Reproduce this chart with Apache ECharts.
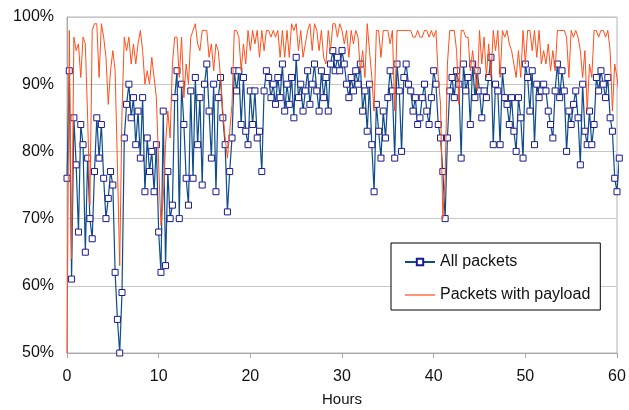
<!DOCTYPE html>
<html>
<head>
<meta charset="utf-8">
<script src="https://cdn.jsdelivr.net/npm/echarts@6/dist/echarts.min.js"></script>
<style>
html,body{margin:0;padding:0;background:#fff;}
#chart{width:629px;height:410px;}
</style>
</head>
<body>
<div id="chart"></div>
<script>
// Time grid: one sample every quarter hour, starting at hour 0
const hourStart = 0;
const hourStep = 0.25;

// "All packets" (% of packets)
const allPackets = [
  76,92,61,85,78,68,84,81,65,79,70,67,77,85,79,84,76,70,73,77,75,62,55,50,59,82,87,90,85,
  88,81,86,79,88,74,82,77,80,74,81,68,62,86,63,77,70,72,88,92,70,90,84,76,72,89,76,91,81,88,
  75,90,93,86,79,90,74,88,91,85,81,71,77,82,92,89,92,84,91,83,81,89,84,89,82,83,77,89,92,
  91,88,90,87,91,88,93,86,90,87,91,85,94,88,90,86,89,92,87,90,93,89,86,92,88,91,86,93,95,92,
  94,92,95,93,90,88,91,89,92,90,93,86,89,83,90,81,74,87,83,79,86,82,88,92,89,79,93,89,80,
  91,93,90,89,86,88,84,85,88,90,86,84,88,92,90,84,82,77,70,82,89,91,88,92,90,79,93,89,91,
  84,93,88,92,89,85,89,88,91,94,81,90,89,81,92,88,87,84,88,83,80,88,85,79,93,91,86,92,81,90,88,89,
  90,89,86,84,82,89,93,88,92,89,80,86,84,87,89,85,78,90,83,81,86,81,84,91,89,92,90,88,91,85,83,76,74,79
];

// "Packets with payload" (%)
const payloadPackets = [
  50,98,64,97,95,96,91,97,96,85,72,98,99,99,91,99,97,94,87,92,95,92,78,63,86,97,95,97,93,
  96,93,96,98,95,90,92,90,94,91,88,78,69,73,81,86,82,93,97,97,91,97,88,93,90,97,98,99,96,95,
  98,98,98,94,96,92,96,95,91,86,82,79,83,87,98,98,97,92,96,93,98,95,98,96,98,94,98,95,98,
  98,97,98,97,98,94,98,94,98,94,99,98,99,95,98,94,96,98,99,95,99,98,95,98,94,93,98,95,99,99,
  97,99,98,96,98,94,98,96,98,97,92,95,91,99,95,91,86,98,98,94,98,98,98,96,98,86,98,98,98,
  98,98,98,98,97,97,98,97,97,98,98,97,98,97,98,91,87,70,76,93,98,98,98,95,87,98,98,97,97,
  92,95,92,89,98,93,97,91,96,91,98,95,98,91,98,97,98,96,95,93,91,95,91,98,93,98,98,95,98,94,98,93,
  95,93,96,92,95,92,98,98,98,98,97,91,98,97,98,97,95,91,95,86,93,91,98,98,97,98,98,97,98,95,86,93,91,88
];

const seriesNames = ['All packets', 'Packets with payload'];
const xTicks = [0, 10, 20, 30, 40, 50, 60];
const yTicks = [50, 60, 70, 80, 90, 100];

const toPairs = arr => arr.map((v, i) => [hourStart + i * hourStep, v]);

const font = "'Liberation Sans', Arial, sans-serif";
const chart = echarts.init(document.getElementById('chart'), null, {renderer: 'canvas'});
chart.setOption({
  animation: false,
  backgroundColor: '#fff',
  grid: {
    left: 67, right: 12, top: 17, bottom: 57,
    outerBoundsMode: 'none',
    containLabel: false,
    show: true, borderColor: '#b4b4b4', borderWidth: 1, backgroundColor: 'transparent'
  },
  xAxis: {
    type: 'value',
    min: xTicks[0], max: xTicks[xTicks.length - 1], interval: 10,
    name: 'Hours', nameLocation: 'middle', nameGap: 39,
    nameTextStyle: {fontFamily: font, fontSize: 15, color: '#111'},
    axisLine: {show: true, lineStyle: {color: '#a8a8a8', width: 1}},
    axisTick: {show: true, length: 5, lineStyle: {color: '#a8a8a8'}},
    axisLabel: {fontFamily: font, fontSize: 16, color: '#111', margin: 16},
    splitLine: {show: false}
  },
  yAxis: {
    type: 'value',
    min: yTicks[0], max: yTicks[yTicks.length - 1], interval: 10,
    axisLine: {show: true, lineStyle: {color: '#a8a8a8', width: 1}},
    axisTick: {show: false},
    axisLabel: {fontFamily: font, fontSize: 16, color: '#111', margin: 13, formatter: '{value}%'},
    splitLine: {show: true, lineStyle: {color: '#c8c8c8', width: 1}}
  },
  legend: {
    orient: 'vertical',
    left: 391, top: 243,
    padding: [11, 10, 7, 13],
    itemGap: 17,
    itemWidth: 30, itemHeight: 8,
    backgroundColor: '#fff',
    borderColor: '#000', borderWidth: 1,
    textStyle: {fontFamily: font, fontSize: 16, color: '#111'},
    data: [
      {name: seriesNames[0]},
      {name: seriesNames[1], icon: 'path://M0,0H30V1.2H0Z'}
    ]
  },
  series: [
    {
      name: seriesNames[0],
      type: 'line',
      data: toPairs(allPackets),
      clip: false,
      symbol: 'rect',
      symbolSize: 6,
      showSymbol: true,
      lineStyle: {color: '#0f4c8a', width: 1.2},
      itemStyle: {color: '#ffffff', borderColor: '#1a1a8e', borderWidth: 1},
      emphasis: {disabled: true},
      z: 2
    },
    {
      name: seriesNames[1],
      type: 'line',
      data: toPairs(payloadPackets),
      clip: false,
      showSymbol: false,
      symbol: 'none',
      lineStyle: {color: '#ff4f1a', width: 1},
      itemStyle: {color: '#ff4f1a'},
      emphasis: {disabled: true},
      z: 3
    }
  ]
});
</script>
</body>
</html>
